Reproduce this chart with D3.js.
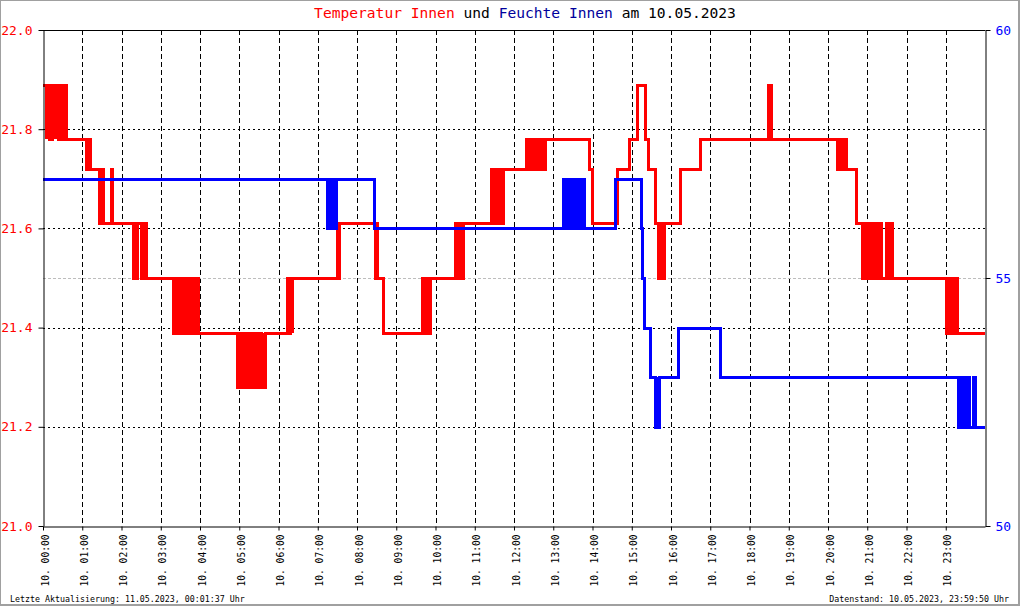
<!DOCTYPE html>
<html>
<head>
<meta charset="utf-8">
<script src="https://cdn.jsdelivr.net/npm/d3@7"></script>
<style>
  body { margin: 0; background: #fff; }
  svg { display: block; font-family: "DejaVu Sans Mono", "Liberation Mono", monospace; }
</style>
</head>
<body>
<div id="chart"></div>
<script>
// Temperatur innen, [Minute des Tages, Grad C]
var tempData = [
  [0,21.89],[4,21.78],[5,21.89],[9,21.78],[10,21.89],[12,21.78],[13,21.89],[18,21.78],[19,21.89],[23,21.78],[24,21.89],[28,21.78],[29,21.89],[31,21.78],[32,21.89],[35,21.78],
  [65,21.72],[68,21.78],[72,21.72],
  [86,21.61],[88,21.72],[91,21.61],[104,21.72],[106,21.61],
  [138,21.5],[140,21.61],[142,21.5],[144,21.61],[150,21.5],[152,21.61],[154,21.5],[156,21.61],[158,21.5],
  [198,21.39],[200,21.5],[203,21.39],[206,21.5],[208,21.39],[211,21.5],[216,21.39],[218,21.5],[222,21.39],[224,21.5],[227,21.39],[230,21.5],[232,21.39],[235,21.5],[237,21.39],
  [297,21.28],[299,21.39],[303,21.28],[306,21.39],[308,21.28],[311,21.39],[313,21.28],[316,21.39],[318,21.28],[321,21.39],[323,21.28],[326,21.39],[328,21.28],[331,21.39],[333,21.28],[336,21.39],[337,21.28],[340,21.39],
  [373,21.5],[375,21.39],[378,21.5],[380,21.39],[381,21.5],
  [449,21.61],[451,21.5],[453,21.61],
  [507,21.5],[509,21.61],[511,21.5],[519,21.39],
  [579,21.5],[582,21.39],[584,21.5],[589,21.39],[591,21.5],
  [630,21.61],[632,21.5],[634,21.61],[636,21.5],[638,21.61],[640,21.5],[642,21.61],
  [685,21.72],[687,21.61],[689,21.72],[692,21.61],[694,21.72],[696,21.61],[699,21.72],[701,21.61],[703,21.72],
  [738,21.78],[740,21.72],[742,21.78],[746,21.72],[748,21.78],[751,21.72],[753,21.78],[756,21.72],[758,21.78],[761,21.72],[763,21.78],[765,21.72],[767,21.78],
  [835,21.72],[839,21.61],[877,21.72],[896,21.78],[908,21.89],[920,21.78],[925,21.72],[936,21.61],
  [940,21.5],[942,21.61],[944,21.5],[946,21.61],[948,21.5],[950,21.61],
  [974,21.72],[1004,21.78],[1108,21.89],[1113,21.78],
  [1214,21.72],[1216,21.78],[1219,21.72],[1221,21.78],[1224,21.72],[1226,21.78],[1228,21.72],
  [1243,21.61],
  [1252,21.5],[1254,21.61],[1256,21.5],[1259,21.61],[1261,21.5],[1264,21.61],[1266,21.5],[1269,21.61],[1271,21.5],[1274,21.61],[1276,21.5],[1279,21.61],[1281,21.5],[1288,21.61],[1290,21.5],[1292,21.61],[1294,21.5],[1297,21.61],[1298,21.5],
  [1380,21.39],[1382,21.5],[1386,21.39],[1388,21.5],[1392,21.39],[1394,21.5],[1397,21.39],
  [1440,21.39]
];

// Feuchte innen, [Minute des Tages, %]
var humData = [
  [0,57],[434,56],[436,57],[438,56],[440,57],[442,56],[444,57],[446,56],[448,57],
  [506,56],
  [795,57],[798,56],[800,57],[802,56],[805,57],[807,56],[810,57],[812,56],[815,57],[817,56],[820,57],[822,56],[825,57],[827,56],
  [874,57],[914,56],[916,55],[918,54],[928,53],[936,52],[938,53],[939,52],[941,53],
  [971,54],[1035,53],
  [1399,52],[1401,53],[1403,52],[1405,53],[1407,52],[1409,53],[1411,52],[1413,53],[1415,52],[1422,53],[1424,52],
  [1440,52]
];

var tempTicks = [21.0, 21.2, 21.4, 21.6, 21.8, 22.0];
var humTicks = [50, 55, 60];
var hourTicks = d3.range(0, 1440, 60);
var tagLabel = "10.";

var width = 1020, height = 606;
var margin = {top: 30, right: 35, bottom: 80, left: 43};
var plotW = width - margin.left - margin.right;
var plotH = height - margin.top - margin.bottom;

var svg = d3.select("#chart").append("svg")
  .attr("width", width)
  .attr("height", height);

svg.append("rect")
  .attr("x", 0).attr("y", 0)
  .attr("width", width - 1).attr("height", height - 1)
  .style("fill", "#fff")
  .style("stroke", "#a0a0a0")
  .style("stroke-width", 2);

var x = d3.scaleLinear().domain([0, 1440]).range([margin.left, margin.left + plotW]);
var yT = d3.scaleLinear().domain([21, 22]).range([margin.top + plotH, margin.top]);
var yH = d3.scaleLinear().domain([50, 60]).range([margin.top + plotH, margin.top]);

var g = svg.append("g");

// vertical grid (hours)
g.selectAll(".vgrid")
  .data(hourTicks.filter(function(d){ return d > 0; }))
  .enter().append("line")
  .attr("x1", function(d){ return Math.round(x(d)) + 0.5; })
  .attr("x2", function(d){ return Math.round(x(d)) + 0.5; })
  .attr("y1", margin.top)
  .attr("y2", margin.top + plotH)
  .style("stroke", "#000")
  .style("stroke-dasharray", "5,3");

// horizontal grid
g.selectAll(".hgrid")
  .data(tempTicks.filter(function(d){ return d > 21 && d < 22; }))
  .enter().append("line")
  .attr("x1", margin.left)
  .attr("x2", margin.left + plotW)
  .attr("y1", function(d){ return Math.round(yT(d)) + 0.5; })
  .attr("y2", function(d){ return Math.round(yT(d)) + 0.5; })
  .style("stroke", "#000")
  .style("stroke-dasharray", "2,3");

g.selectAll(".hgrid2")
  .data(humTicks.filter(function(d){ return d > 50 && d < 60; }))
  .enter().append("line")
  .attr("x1", margin.left)
  .attr("x2", margin.left + plotW)
  .attr("y1", function(d){ return Math.round(yH(d)) + 0.5; })
  .attr("y2", function(d){ return Math.round(yH(d)) + 0.5; })
  .style("stroke", "#bdbdbd")
  .style("stroke-dasharray", "3,2");

// data lines
var lineT = d3.line()
  .x(function(d){ return Math.round(x(d[0])); })
  .y(function(d){ return Math.round(yT(d[1])); })
  .curve(d3.curveStepAfter);
var lineH = d3.line()
  .x(function(d){ return Math.round(x(d[0])); })
  .y(function(d){ return Math.round(yH(d[1])); })
  .curve(d3.curveStepAfter);

g.append("path")
  .datum(tempData)
  .attr("d", lineT)
  .style("fill", "none")
  .style("stroke", "#ff0000")
  .style("stroke-width", 3)
  .style("shape-rendering", "crispEdges");

g.append("path")
  .datum(humData)
  .attr("d", lineH)
  .style("fill", "none")
  .style("stroke", "#0000ff")
  .style("stroke-width", 3)
  .style("shape-rendering", "crispEdges");

// top border
svg.append("line")
  .attr("x1", margin.left).attr("x2", margin.left + plotW)
  .attr("y1", margin.top + 0.5).attr("y2", margin.top + 0.5)
  .style("stroke", "#000");

// left axis
var axL = svg.append("g")
  .attr("transform", "translate(" + (margin.left + 0.5) + ",0)")
  .call(d3.axisLeft(yT).tickValues(tempTicks).tickSize(5).tickSizeOuter(0).tickPadding(6).tickFormat(d3.format(".1f")));
axL.selectAll("text").style("fill", "#ff0000").style("font-size", "13px").style("font-family", "DejaVu Sans Mono");

// right axis
var axR = svg.append("g")
  .attr("transform", "translate(" + (margin.left + plotW + 0.5) + ",0)")
  .call(d3.axisRight(yH).tickValues(humTicks).tickSize(5).tickSizeOuter(0).tickPadding(5));
axR.selectAll("text").style("fill", "#0000ff").style("font-size", "13px").style("font-family", "DejaVu Sans Mono");

// bottom axis
var axB = svg.append("g")
  .attr("transform", "translate(0," + (margin.top + plotH + 0.5) + ")")
  .call(d3.axisBottom(x).tickValues(hourTicks).tickSize(4).tickSizeOuter(0)
    .tickFormat(function(d){ return tagLabel + " " + d3.format("02d")(d / 60) + ":00"; }));
axB.selectAll("text")
  .attr("transform", "translate(5,8) rotate(-90)")
  .attr("x", 0).attr("y", 0).attr("dy", 0)
  .style("text-anchor", "end")
  .style("fill", "#000")
  .style("font-size", "9.6px")
  .style("font-family", "DejaVu Sans Mono");

svg.selectAll(".domain").style("stroke", "#000");

// title
var title = svg.append("text")
  .attr("x", 525)
  .attr("y", 18)
  .attr("text-anchor", "middle")
  .style("font-size", "14.6px");
title.append("tspan").style("fill", "#ff0000").text("Temperatur Innen");
title.append("tspan").style("fill", "#000").text(" und ");
title.append("tspan").style("fill", "#00009c").text("Feuchte Innen");
title.append("tspan").style("fill", "#000").text(" am 10.05.2023");

// footer
svg.append("text")
  .attr("x", 10).attr("y", 602)
  .style("font-size", "8.3px")
  .text("Letzte Aktualisierung: 11.05.2023, 00:01:37 Uhr");
svg.append("text")
  .attr("x", 1009).attr("y", 602)
  .attr("text-anchor", "end")
  .style("font-size", "8.3px")
  .text("Datenstand: 10.05.2023, 23:59:50 Uhr");
</script>
</body>
</html>
